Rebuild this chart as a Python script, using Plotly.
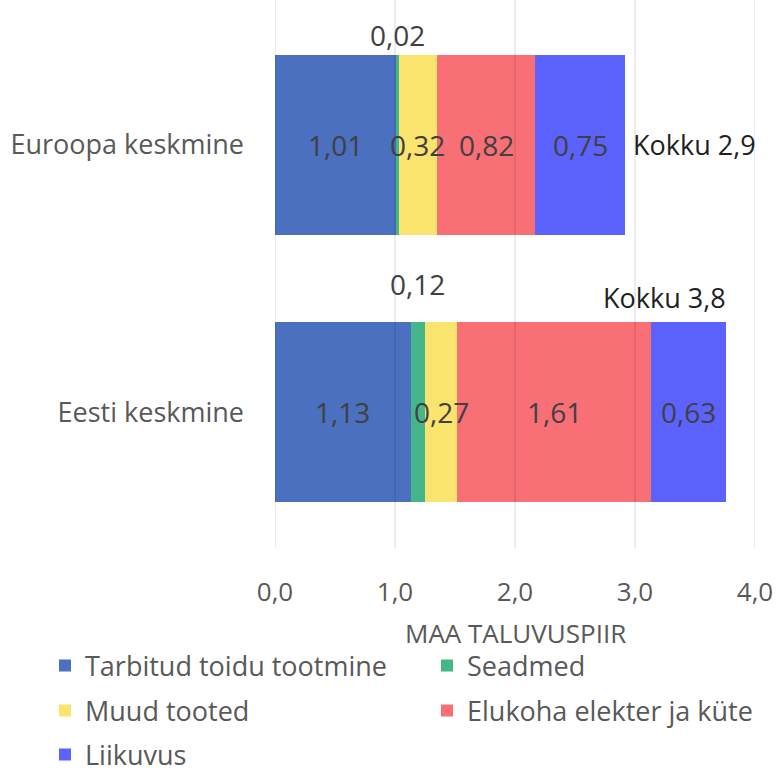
import plotly.graph_objects as go

# Categories (bottom to top) and per-source footprint values
categories = ["Eesti keskmine", "Euroopa keskmine"]
series_names = [
    "Tarbitud toidu tootmine",
    "Seadmed",
    "Muud tooted",
    "Elukoha elekter ja küte",
    "Liikuvus",
]
food = [1.13, 1.01]
devices = [0.12, 0.02]
other_goods = [0.27, 0.32]
housing = [1.61, 0.82]
mobility = [0.63, 0.75]
x_ticks = [0, 1, 2, 3, 4]
x_title = "MAA TALUVUSPIIR"

series_values = [food, devices, other_goods, housing, mobility]
colors = ["#4a70bf", "#45b68a", "#fbe46d", "#f86f76", "#5c62fd"]

FONT = "Open Sans"
GREY = "#595959"
LABEL = "#404040"
W, H = 779, 771
M_L, M_R, M_T, M_B = 275, 24, 0, 223
PLOT_H = H - M_T - M_B


def fmt(v, digits):
    return f"{v:.{digits}f}".replace(".", ",")


fig = go.Figure()

legend_keys = ["legend", "legend2", "legend3", "legend4", "legend5"]
for name, vals, col, lg in zip(series_names, series_values, colors, legend_keys):
    fig.add_trace(go.Bar(
        name=name,
        y=categories,
        x=vals,
        orientation="h",
        width=0.673,
        marker=dict(color=col, line=dict(width=0)),
        legend=lg,
        hoverinfo="skip",
    ))

annotations = []
SMALL = 0.15
label_font = dict(family=FONT, size=28, color=LABEL)
# value labels: centred in each segment, thin segments labelled above the bar
for i, cat in enumerate(categories):
    left = 0.0
    for vals in series_values:
        v = vals[i]
        ann = dict(x=left + v / 2, y=cat, xref="x", yref="y",
                   text=fmt(v, 2), showarrow=False, font=label_font)
        if v < SMALL:
            ann["yshift"] = 110 if i == 1 else 128
        annotations.append(ann)
        left += v

# totals
totals = [sum(v[i] for v in series_values) for i in range(len(categories))]
total_font = dict(family=FONT, size=27, color="#1f1f1f")
annotations.append(dict(
    x=totals[1], y=categories[1], xref="x", yref="y",
    text="Kokku " + fmt(totals[1], 1), showarrow=False,
    xanchor="left", xshift=6, font=total_font,
))
annotations.append(dict(
    x=totals[0], y=categories[0], xref="x", yref="y",
    text="Kokku " + fmt(totals[0], 1), showarrow=False,
    xanchor="right", xshift=2, yshift=115, font=total_font,
))

# x-axis title, placed below the tick labels
annotations.append(dict(
    x=0.5, y=-(633 - PLOT_H) / PLOT_H, xref="paper", yref="paper",
    text=x_title, showarrow=False, xanchor="center", yanchor="middle",
    font=dict(family=FONT, size=26, color=GREY),
))

# vertical gridlines drawn over the bars with a translucent stroke
shapes = [dict(type="line", xref="x", yref="paper", x0=v, x1=v, y0=0, y1=1,
               line=dict(color="rgba(0,0,0,0.15)", width=1), layer="above")
          for v in x_ticks]

# one legend per entry, laid out in two columns
legend_pos = [(45, 666), (427, 666), (45, 711), (427, 711), (45, 755)]
legend_layout = {}
for key, (px, py) in zip(legend_keys, legend_pos):
    legend_layout[key] = dict(
        xref="container", yref="container",
        x=px / W, y=1 - py / H, xanchor="left", yanchor="middle",
        orientation="h",
        font=dict(family=FONT, size=27, color=GREY),
        bgcolor="rgba(0,0,0,0)", itemclick=False, itemdoubleclick=False,
    )

fig.update_layout(
    width=W, height=H,
    margin=dict(l=M_L, r=M_R, t=M_T, b=M_B, autoexpand=False),
    paper_bgcolor="white", plot_bgcolor="white",
    barmode="stack",
    separators=", ",
    font=dict(family=FONT, color=GREY),
    showlegend=True,
    xaxis=dict(
        range=[0, 4.0], tickvals=x_ticks, tickformat=".1f",
        showgrid=False, zeroline=False, showline=False, ticks="",
        tickfont=dict(family=FONT, size=26, color=GREY),
        ticklabelstandoff=26, automargin=False,
        fixedrange=True,
    ),
    yaxis=dict(
        range=[-0.507, 1.542], showgrid=False, zeroline=False, showline=False,
        ticks="", tickfont=dict(family=FONT, size=27, color=GREY),
        ticklabelstandoff=30, automargin=False, fixedrange=True,
    ),
    annotations=annotations,
    shapes=shapes,
    **legend_layout,
)

fig.write_html("out.html", config=dict(displayModeBar=False))
